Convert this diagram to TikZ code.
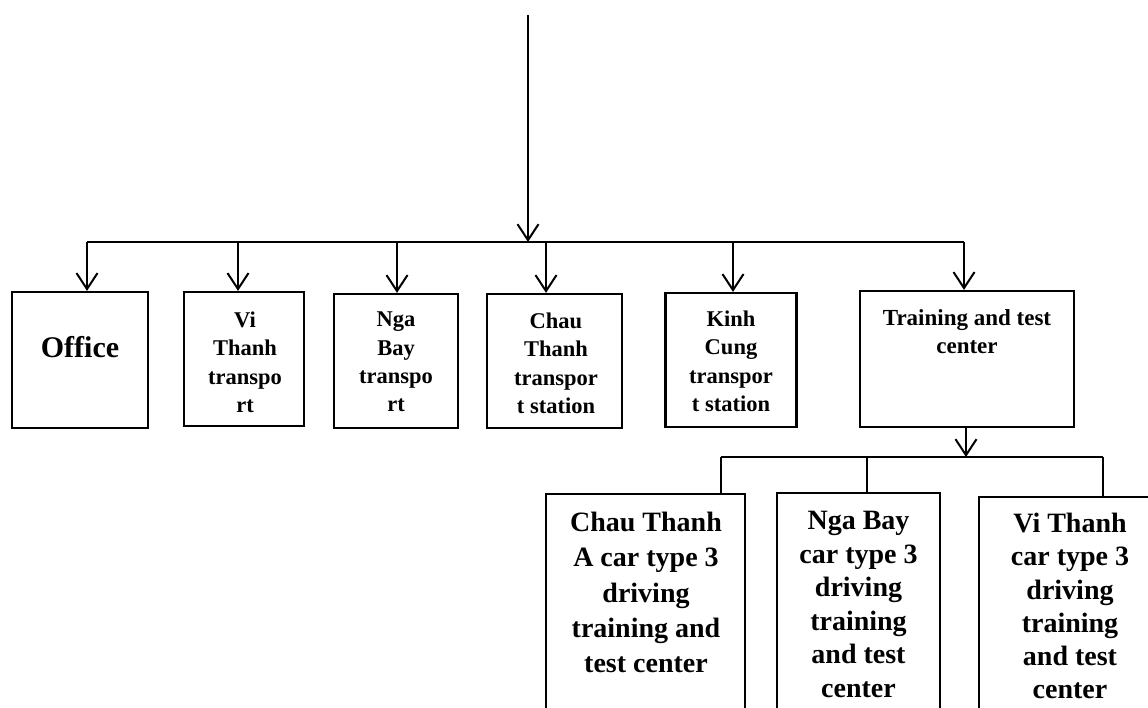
\documentclass[tikz,border=0pt]{standalone}
\usepackage{fontspec}
\setmainfont{Liberation Serif}
\usetikzlibrary{arrows.meta}
\begin{document}
\begin{tikzpicture}[x=1pt,y=-1pt,
  box/.style={draw, line width=2.2pt, inner sep=0pt},
  smalltxt/.style={anchor=north, align=center, inner sep=0pt, font=\bfseries\fontsize{22.5}{28.4}\selectfont},
  bigtxt/.style={anchor=north, align=center, inner sep=0pt, font=\bfseries\fontsize{28}{#1}\selectfont},
  conn/.style={line width=2pt},
  arr/.style={conn, -{Straight Barb[length=16pt,width=21pt,line width=2pt]}}]
\clip (0,0) rectangle (1148,708);
\fill[white] (0,0) rectangle (1148,708);

% top-level boxes
\node[box, minimum width=136pt, minimum height=136pt] (office) at (80,360) {};
\node[box, minimum width=120pt, minimum height=134pt] (vith) at (244,359) {};
\node[box, minimum width=124pt, minimum height=134pt] (ngab) at (396,361) {};
\node[box, minimum width=135pt, minimum height=134pt] (chau) at (554.5,361) {};
\node[box, minimum width=131pt, minimum height=134pt] (kinh) at (731,360) {};
\node[box, minimum width=214pt, minimum height=136pt] (train) at (967,359) {};

% bottom boxes (cut off by the picture edge)
\node[box, minimum width=199pt, minimum height=230pt, anchor=north] (cta) at (645.5,493) {};
\node[box, minimum width=163pt, minimum height=230pt, anchor=north] (ngc) at (858.5,492) {};
\node[box, minimum width=186pt, minimum height=230pt, anchor=north] (vtc) at (1072,496) {};

% texts
\node[anchor=base, inner sep=0pt, font=\bfseries\fontsize{30}{36}\selectfont] (toffice) at (80,358) {Office};
\node[smalltxt] (tvith) at (245,311.7) {Vi\\Thanh\\transpo\\rt};
\node[smalltxt] (tngab) at (396,311.7) {Nga\\Bay\\transpo\\rt};
\node[smalltxt] (tchau) at (556,312.7) {Chau\\Thanh\\transpor\\t station};
\node[smalltxt] (tkinh) at (731,310.7) {Kinh\\Cung\\transpor\\t station};
\node[anchor=north, align=center, inner sep=0pt, font=\bfseries\fontsize{23}{28}\selectfont] (ttrain) at (967,309.4) {Training and test\\center};
\node[bigtxt=35.3] (tcta) at (646,512) {Chau Thanh\\A car type 3\\driving\\training and\\test center};
\node[bigtxt=33.6] (tngc) at (858.5,511) {Nga Bay\\car type 3\\driving\\training\\and test\\center};
\node[bigtxt=33.2] (tvtc) at (1070,513) {Vi Thanh\\car type 3\\driving\\training\\and test\\center};

% connectors, top level
\coordinate (start) at (528,15);
\coordinate (hub) at (528,242);
\coordinate (b1) at (87,242);
\coordinate (b2) at (238,242);
\coordinate (b3) at (397,242);
\coordinate (b4) at (546,242);
\coordinate (b5) at (733,242);
\coordinate (b6) at (964,242);
\draw[arr] (start) -- (hub);
\draw[conn] (b1) -- (b6);
\draw[arr] (b1) -- (b1 |- office.north);
\draw[arr] (b2) -- (b2 |- vith.north);
\draw[arr] (b3) -- (b3 |- ngab.north);
\draw[arr] (b4) -- (b4 |- chau.north);
\draw[arr] (b5) -- (b5 |- kinh.north);
\draw[arr] (b6) -- (b6 |- train.north);

% connectors, lower level
\coordinate (tdown) at (966,427);
\coordinate (hub2) at (966,457);
\coordinate (c1) at (721,457);
\coordinate (c2) at (867,457);
\coordinate (c3) at (1103,457);
\draw[arr] (tdown) -- (hub2);
\draw[conn] (c1) -- (c3);
\draw[conn] (c1) -- (c1 |- cta.north);
\draw[conn] (c2) -- (c2 |- ngc.north);
\draw[conn] (c3) -- (c3 |- vtc.north);
\end{tikzpicture}
\end{document}
